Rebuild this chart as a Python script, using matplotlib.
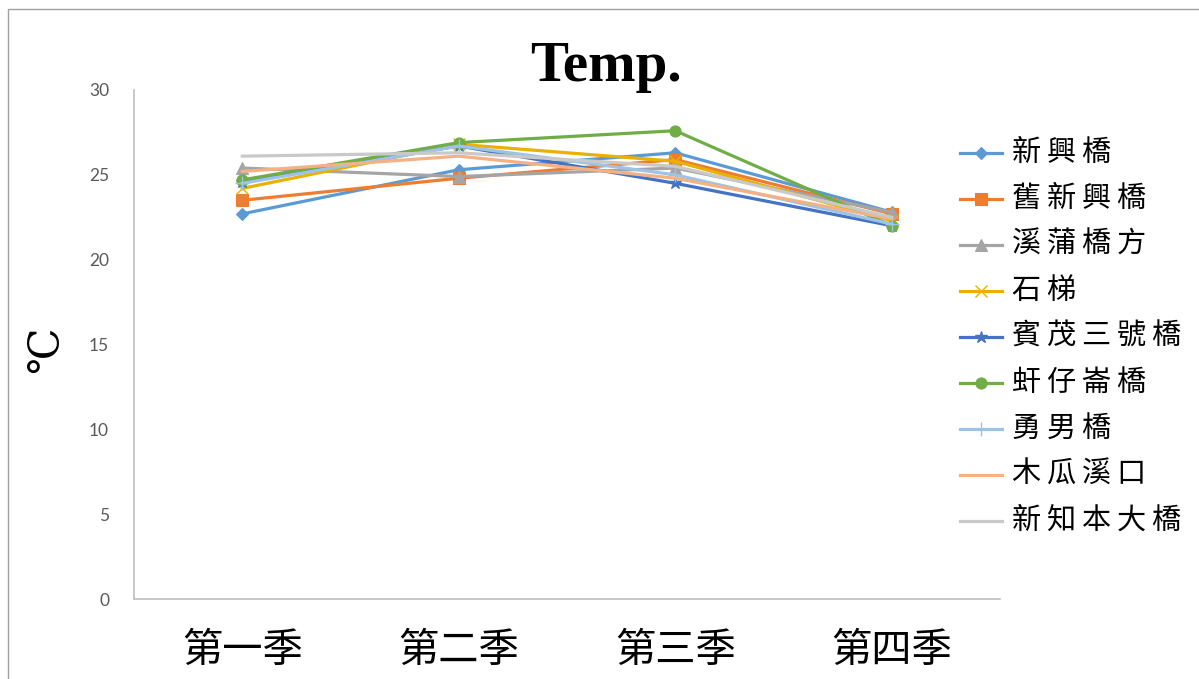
import matplotlib.pyplot as plt
from matplotlib.lines import Line2D
from matplotlib.patches import Rectangle

plt.rcParams['font.family'] = ['Noto Sans CJK TC', 'DejaVu Sans']

quarters = ['第一季', '第二季', '第三季', '第四季']

stations = ['新興橋', '舊新興橋', '溪蒲橋方', '石梯', '賓茂三號橋',
            '虷仔崙橋', '勇男橋', '木瓜溪口', '新知本大橋']

xinxing = [22.7, 25.3, 26.3, 22.8]
jiu_xinxing = [23.5, 24.8, 25.9, 22.7]
xipu = [25.4, 24.9, 25.4, 22.8]
shiti = [24.2, 26.8, 25.8, 22.3]
binmao = [24.6, 26.7, 24.5, 22.0]
ganzailun = [24.7, 26.9, 27.6, 22.0]
yongnan = [24.5, 26.7, 25.0, 22.1]
mugua = [25.2, 26.1, 24.8, 22.4]
xinzhiben = [26.1, 26.3, 25.5, 22.5]

series = [xinxing, jiu_xinxing, xipu, shiti, binmao,
          ganzailun, yongnan, mugua, xinzhiben]

colors = ['#5B9BD5', '#ED7D31', '#A5A5A5', '#EBB000', '#4472C4',
          '#70AD47', '#9DC3E6', '#F4B183', '#C9C9C9']
markers = ['D', 's', '^', 'x', '*', 'o', '+', None, None]
msizes = [6, 8, 8, 8, 9, 8, 10, 0, 0]

W, H = 1199, 679
fig = plt.figure(figsize=(W / 100, H / 100), dpi=100)
ax = fig.add_axes([134 / W, 1 - 599 / H, 866 / W, 509 / H])


def style(c, m, ms):
    kw = dict(color=c, lw=2.3)
    if m is not None:
        kw.update(marker=m, markersize=ms,
                  markeredgewidth=1.0 if m in 'x*+' else 0.8,
                  markerfacecolor=c, markeredgecolor=c)
    return kw


xs = range(len(quarters))
for name, vals, c, m, ms in zip(stations, series, colors, markers, msizes):
    ax.plot(xs, vals, label=name, **style(c, m, ms))

ax.set_xlim(-0.5, len(quarters) - 0.5)
ax.set_ylim(0, 30)
ax.set_yticks(range(0, 31, 5))
ax.set_xticks(list(xs))
ax.set_xticklabels(quarters, fontsize=29, color='black')
ax.tick_params(axis='x', length=0, pad=22)
ax.tick_params(axis='y', length=0, pad=18, labelsize=12.5, labelcolor='#595959')
for lbl in ax.get_yticklabels():
    lbl.set_family(['Lato', 'DejaVu Sans'])

for side in ('top', 'right'):
    ax.spines[side].set_visible(False)
for side in ('left', 'bottom'):
    ax.spines[side].set_color('#BFBFBF')
    ax.spines[side].set_linewidth(1.2)

# unit label, rotated along the y axis
fig.text(45 / W, 1 - 350 / H, '℃', rotation=90, ha='center', va='center',
         fontsize=30, family=['DejaVu Serif', 'DejaVu Sans'])

fig.text(0.505, 0.902, 'Temp.', ha='center', va='center', fontsize=41,
         fontweight='bold', family=['Liberation Serif', 'DejaVu Serif'])

# legend drawn row by row on the right, with a little letter spacing
for i, (name, c, m, ms) in enumerate(zip(stations, colors, markers, msizes)):
    yf = 1 - (153 + 46 * i) / H
    fig.add_artist(Line2D([960 / W, 1002 / W], [yf, yf],
                          transform=fig.transFigure, color=c, lw=2.3))
    if m is not None:
        kw = style(c, m, ms)
        kw['lw'] = 0
        fig.add_artist(Line2D([981 / W], [yf], transform=fig.transFigure, **kw))
    fig.text(1012 / W, yf, '\u2009'.join(name), ha='left', va='center',
             fontsize=21)

# outer chart frame
fig.patches.append(Rectangle((8 / W, -0.05), 1.2, 1 - 9 / H + 0.05,
                             transform=fig.transFigure, fill=False,
                             edgecolor='#A0A0A0', lw=1.0))

fig.savefig('out.png', dpi=100)
